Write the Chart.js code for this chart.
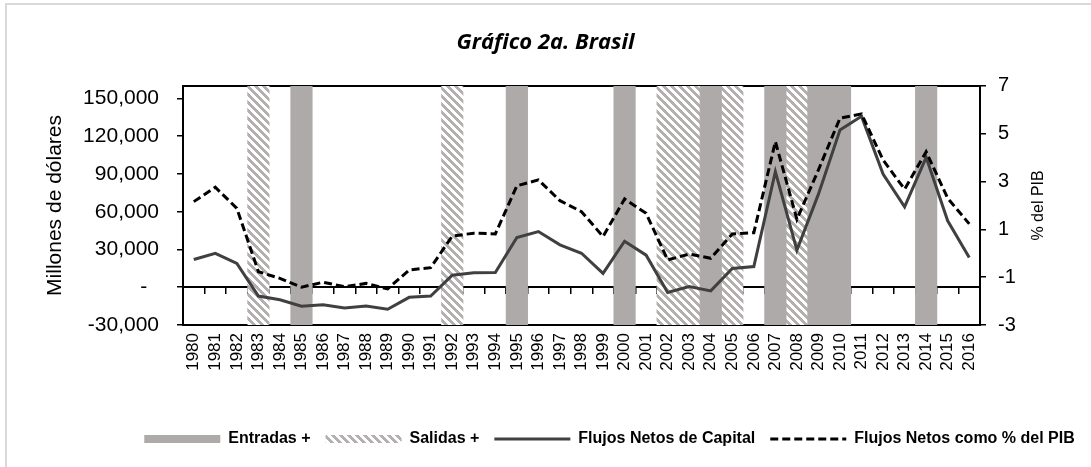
<!DOCTYPE html>
<html><head><meta charset="utf-8">
<script src="https://cdn.jsdelivr.net/npm/chart.js@4"></script>
<style>html,body{margin:0;padding:0;background:#fff}#wrap{width:1091px;height:467px;position:relative}</style>
</head><body><div id="wrap"><canvas id="c" width="1091" height="467"></canvas></div>
<script>
const years = ['1980','1981','1982','1983','1984','1985','1986','1987','1988','1989','1990','1991','1992','1993','1994','1995','1996','1997','1998','1999','2000','2001','2002','2003','2004','2005','2006','2007','2008','2009','2010','2011','2012','2013','2014','2015','2016'];
const flujosNetos = [22000,27000,19000,-7000,-10000,-15000,-14000,-16500,-15000,-17500,-8000,-7000,9500,11500,11700,39500,44300,33700,27000,11000,36600,25500,-4200,500,-2900,14900,16400,91800,29500,74000,125000,135800,89900,63900,103200,52800,23600];
const flujosPIB = [2.16,2.76,1.88,-0.77,-1.05,-1.42,-1.21,-1.40,-1.26,-1.49,-0.70,-0.60,0.72,0.84,0.81,2.82,3.07,2.20,1.74,0.70,2.27,1.67,-0.28,-0.03,-0.21,0.81,0.86,4.67,1.42,3.49,5.65,5.83,3.90,2.68,4.25,2.30,1.23];
const entradasYears = [1985,1995,2000,2004,2007,2009,2010,2014];
const salidasYears = [1983,1992,2002,2003,2005,2008];
const leftTicks = [-30000,0,30000,60000,90000,120000,150000];
const rightTicks = [-3,-1,1,3,5,7];

Chart.defaults.font.family = "'Liberation Sans', Arial, sans-serif";
Chart.defaults.color = '#000';

const canvas = document.getElementById('c');
const ctx = canvas.getContext('2d');

function makeHatch(color) {
  const t = document.createElement('canvas');
  t.width = 8; t.height = 8;
  const g = t.getContext('2d');
  g.fillStyle = '#fff'; g.fillRect(0, 0, 8, 8);
  g.fillStyle = color;
  for (let y = 0; y < 8; y++) for (let x = 0; x < 8; x++) {
    if ((((x - y) % 8) + 8) % 8 < 4) g.fillRect(x, y, 1, 1);
  }
  return ctx.createPattern(t, 'repeat');
}
const hatch = makeHatch('#b4b0b0');

const frame = {
  id: 'frame',
  beforeDraw(chart) {
    const c = chart.ctx;
    c.save();
    c.strokeStyle = '#d9d9d9'; c.lineWidth = 2;
    c.strokeRect(6, 4, 1200, 600);
    c.restore();
  },
  afterDraw(chart) {
    const c = chart.ctx, a = chart.chartArea;
    c.save();
    c.font = "16px 'Liberation Sans', Arial, sans-serif";
    c.fillStyle = '#000';
    c.textAlign = 'center'; c.textBaseline = 'middle';
    c.translate(1039, (a.top + a.bottom) / 2);
    c.rotate(-Math.PI / 2);
    c.fillText('% del PIB', 0, 0);
    c.restore();
  },
  afterLayout(chart) {
    const l = chart.legend;
    if (l) { l.left += 64; l.right += 64; }
  }
};

const axisGrid = { drawOnChartArea: false, drawTicks: true, tickLength: 6, color: '#000', lineWidth: 1.5 };
const axisBorder = { color: '#000', width: 2 };

new Chart(ctx, {
  data: {
    labels: years,
    datasets: [
      { type: 'bar', label: 'Entradas +', yAxisID: 'yb', order: 3, grouped: false,
        data: years.map(y => entradasYears.includes(+y) ? 1 : null),
        backgroundColor: '#aeaaaa', borderWidth: 0, barPercentage: 1, categoryPercentage: 1, pointStyle: 'rect' },
      { type: 'bar', label: 'Salidas +', yAxisID: 'yb', order: 3, grouped: false,
        data: years.map(y => salidasYears.includes(+y) ? 1 : null),
        backgroundColor: hatch, borderWidth: 0, barPercentage: 1, categoryPercentage: 1, pointStyle: 'rect' },
      { type: 'line', label: 'Flujos Netos de Capital', yAxisID: 'y', order: 1,
        data: flujosNetos, borderColor: '#404040', backgroundColor: '#404040', borderWidth: 3,
        pointRadius: 0, tension: 0, pointStyle: 'line' },
      { type: 'line', label: 'Flujos Netos como % del PIB', yAxisID: 'y2', order: 0,
        data: flujosPIB, borderColor: '#000', backgroundColor: '#000', borderWidth: 3, borderDash: [8, 4],
        pointRadius: 0, tension: 0, pointStyle: 'line' }
    ]
  },
  options: {
    responsive: false, animation: false, devicePixelRatio: 1,
    layout: { padding: { top: 10, bottom: 10, left: 8, right: 8 } },
    plugins: {
      tooltip: { enabled: false },
      title: { display: true, text: 'Gráfico 2a. Brasil', color: '#000',
        font: { family: "'Open Sans', sans-serif", size: 22, weight: 'bold', style: 'italic' },
        padding: { top: 20, bottom: 29.5 } },
      legend: { position: 'bottom',
        labels: { usePointStyle: true, pointStyleWidth: 76, boxHeight: 8, padding: 15, color: '#000',
          font: { size: 16, weight: 'bold' },
          sort: (a, b) => a.datasetIndex - b.datasetIndex,
          generateLabels: (chart) => {
            const items = Chart.defaults.plugins.legend.labels.generateLabels(chart);
            items.forEach(it => {
              const ds = chart.data.datasets[it.datasetIndex];
              if (ds.type === 'line') {
                it.lineDash = ds.borderDash || [];
                it.lineWidth = ds.borderWidth;
                it.strokeStyle = ds.borderColor;
              }
            });
            return items;
          } } }
    },
    scales: {
      x: { type: 'category', position: 'bottom', offset: true,
        grid: { display: true, drawOnChartArea: false, drawTicks: false, offset: true },
        border: axisBorder,
        ticks: { minRotation: 90, maxRotation: 90, autoSkip: false, padding: 8, font: { size: 17 }, color: '#000' },
        afterFit: s => { s.height = 91; } },
      x2: { type: 'category', position: { y: 0 }, offset: true,
        grid: Object.assign({ offset: true }, axisGrid), border: axisBorder,
        ticks: { display: false } },
      xTop: { type: 'category', position: 'top', offset: true,
        grid: { drawOnChartArea: false, drawTicks: false }, border: axisBorder,
        ticks: { display: false }, afterFit: s => { s.height = 0; } },
      y: { type: 'linear', position: 'left', min: -30000, max: 160000,
        afterBuildTicks: s => { s.ticks = leftTicks.map(v => ({ value: v })); },
        grid: axisGrid, border: axisBorder,
        ticks: { padding: 18, font: { size: 21 }, color: '#000',
          callback: v => v === 0 ? '-  ' : v.toLocaleString('en-US') },
        title: { display: true, text: 'Millones de dólares', font: { size: 21 }, color: '#000', padding: { top: 35, bottom: 0 } },
        afterFit: s => { s.width = 175; } },
      y2: { type: 'linear', position: 'right', min: -3, max: 7,
        afterBuildTicks: s => { s.ticks = rightTicks.map(v => ({ value: v })); },
        grid: axisGrid, border: axisBorder,
        ticks: { padding: 12, font: { size: 20 }, color: '#000' },
        afterFit: s => { s.width = 103; } },
      yb: { type: 'linear', display: false, min: 0, max: 1 }
    }
  },
  plugins: [frame]
});
</script>
</body></html>
